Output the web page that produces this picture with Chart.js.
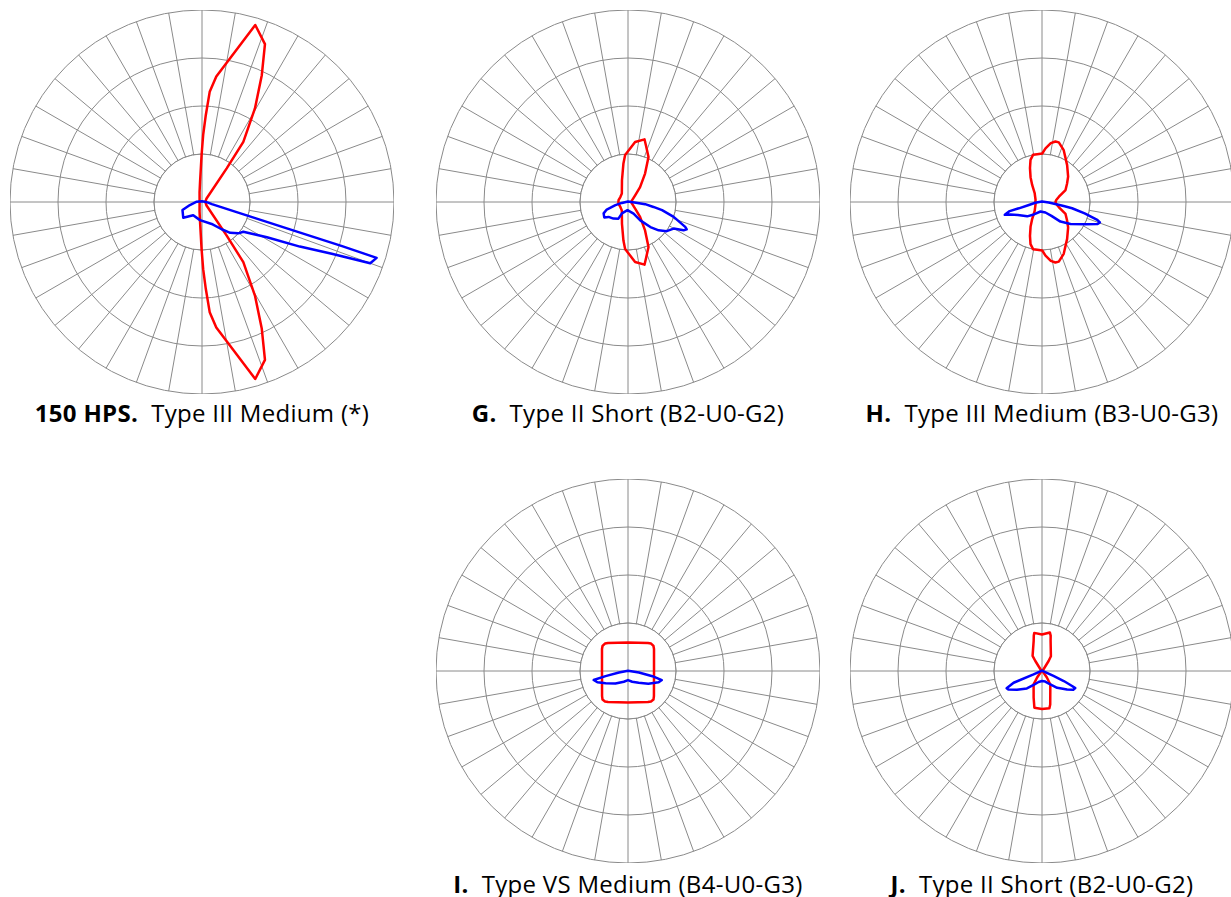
<!DOCTYPE html>
<html>
<head>
<meta charset="utf-8">
<script src="https://cdn.jsdelivr.net/npm/chart.js@4/dist/chart.umd.min.js"></script>
<style>
  html, body { margin: 0; padding: 0; background: #fff; overflow: hidden; }
  body { width: 1231px; height: 897px; position: relative; }
  canvas { position: absolute; }
  .caption {
    position: absolute; width: 460px; text-align: center; white-space: pre;
    font-family: "Open Sans", Lato, sans-serif; font-size: 24px; line-height: 26px;
    letter-spacing: 0.3px; color: #000;
  }
  .caption b { font-weight: 700; margin-right: 13px; }
</style>
</head>
<body>
<script>
// Angular resolution of the polar grid (degrees per category)
const STEP = 0.25;
const N = Math.round(360 / STEP);

// Candela curves: angle (deg, clockwise from top) and relative intensity (ring units)
// 150 HPS, Type III Medium
const hpsRedAngles = [346, 354.5, 359.5, 1, 2.5, 4, 6.5, 16.75, 21.75, 25.25, 29.5, 34.5, 36.25, 51.75, 90,
  128.25, 143.75, 145.5, 150.5, 154.75, 158.25, 163.25, 173.5, 176, 177.5, 179, 180.5, 185.5, 194, 270];
const hpsRedValues = [0.21, 0.42, 0.98, 1.40, 1.81, 2.30, 2.63, 3.85, 3.54, 2.92, 2.24, 1.52, 0.87, 0.12, 0.07,
  0.12, 0.87, 1.52, 2.24, 2.92, 3.54, 3.85, 2.63, 2.30, 1.81, 1.40, 0.98, 0.42, 0.21, 0.05];
const hpsBlueAngles = [0, 84, 96, 102, 105, 106.5, 107.25, 107.5, 107.75, 110, 111.75, 114.5, 118.5, 125.75, 130.75,
  137.5, 144.25, 156.25, 186.25, 213.75, 230, 247.5, 256, 273];
const hpsBlueValues = [0.015, 0.06, 0.13, 0.21, 0.43, 0.87, 1.75, 3.06, 3.82, 3.73, 2.91, 2.24, 1.54, 1.06, 1.00,
  0.87, 0.70, 0.50, 0.38, 0.33, 0.51, 0.44, 0.26, 0.11];

// G. Type II Short (B2-U0-G2)
const gRedAngles = [280.75, 303, 324.25, 344.5, 353.25, 356.5, 6.75, 14.75, 17.5, 24.5, 31, 39, 46.5, 74, 90,
  106, 133.5, 141, 149, 155.5, 162.5, 165.25, 173.25, 183.5, 186.75, 195.5, 215.75, 237, 259.25, 270];
const gRedValues = [0.20, 0.19, 0.22, 0.47, 0.81, 0.98, 1.26, 1.35, 1.24, 1.03, 0.69, 0.40, 0.21, 0.08, 0.08,
  0.08, 0.21, 0.40, 0.69, 1.03, 1.24, 1.35, 1.26, 0.98, 0.81, 0.47, 0.22, 0.19, 0.20, 0.20];
const gBlueAngles = [0, 93, 95, 97.25, 101, 103.5, 108, 113.5, 115, 117, 120.25, 127, 132.75, 138.25, 146.25,
  154.5, 183.5, 208, 210, 221.25, 232.5, 237, 245, 250.5, 256, 261.5];
const gBlueValues = [0.01, 0.10, 0.17, 0.36, 0.54, 0.73, 1.00, 1.30, 1.35, 1.30, 1.10, 1.01, 0.87, 0.70, 0.46,
  0.27, 0.17, 0.27, 0.40, 0.46, 0.51, 0.59, 0.56, 0.47, 0.27, 0.13];

// H. Type III Medium (B3-U0-G3)
const hRedAngles = [0.25, 3.75, 8.5, 12.5, 15.75, 22.75, 34.25, 45.75, 53.5, 63, 72.5, 82, 90,
  98, 107.5, 117, 126.5, 134.25, 145.75, 157.25, 164.25, 167.5, 171.5, 176.25, 179.75, 185.75, 190.75,
  195.25, 199.5, 204.75, 210, 219.5, 253, 270, 287, 320.5, 330, 335.25, 340.5, 344.75, 349.25, 354.25];
const hRedValues = [1.01, 1.12, 1.24, 1.29, 1.29, 1.17, 0.93, 0.76, 0.65, 0.55, 0.37, 0.30, 0.28,
  0.30, 0.37, 0.55, 0.65, 0.76, 0.93, 1.17, 1.29, 1.29, 1.24, 1.12, 1.01, 1.00, 1.00,
  0.91, 0.75, 0.57, 0.41, 0.24, 0.14, 0.14, 0.14, 0.24, 0.41, 0.57, 0.75, 0.91, 1.00, 1.00];
const hBlueAngles = [0, 94, 98.5, 100.5, 101.75, 105, 108, 109.5, 111.75, 117, 127.75, 136.75, 145.75, 162,
  188.75, 213.25, 226, 241.5, 248.5, 251, 254.25, 254.75, 257.25, 264];
const hBlueValues = [0.01, 0.14, 0.28, 0.46, 0.64, 0.92, 1.21, 1.28, 1.24, 1.02, 0.75, 0.56, 0.35, 0.23,
  0.20, 0.31, 0.43, 0.57, 0.71, 0.82, 0.70, 0.50, 0.28, 0.14];

// I. Type VS Medium (B4-U0-G3)
const iRedAngles = [0, 35.5, 40, 45.5, 49.75, 90, 134, 138.25, 143, 147.25, 180, 212.75, 217, 221.75, 226, 270,
  310.25, 314.5, 320, 324.5];
const iRedValues = [0.594, 0.717, 0.747, 0.744, 0.710, 0.542, 0.751, 0.797, 0.796, 0.768, 0.656, 0.768, 0.796,
  0.797, 0.751, 0.542, 0.710, 0.744, 0.747, 0.717];
const iBlueAngles = [0, 98, 102, 105, 110.25, 122, 137.5, 158.75, 180, 201.25, 225, 241.25, 249.75, 255.25,
  257.25, 260.75];
const iBlueValues = [0.005, 0.23, 0.52, 0.73, 0.68, 0.50, 0.33, 0.24, 0.19, 0.24, 0.37, 0.53, 0.68, 0.74,
  0.48, 0.19];

// J. Type II Short (B2-U0-G2)
const jRedAngles = [0, 11.5, 13.75, 16, 31, 33.5, 90, 143.25, 148.25, 162.75, 166.25, 168.75, 180, 191.75,
  197.5, 212, 216.75, 270, 326.25, 328, 344.5, 347, 348.5];
const jRedValues = [0.76, 0.82, 0.76, 0.65, 0.36, 0.25, 0.01, 0.17, 0.33, 0.58, 0.72, 0.79, 0.79, 0.78,
  0.58, 0.33, 0.17, 0.01, 0.25, 0.37, 0.65, 0.76, 0.81];
const jBlueAngles = [0, 113.25, 114.75, 116.5, 117.25, 121, 126.5, 138, 148.25, 163, 180, 197.25, 211, 221,
  233.25, 241.25, 244, 247.5, 248.25];
const jBlueValues = [0.01, 0.26, 0.50, 0.70, 0.78, 0.76, 0.65, 0.47, 0.33, 0.23, 0.21, 0.24, 0.34, 0.48,
  0.65, 0.80, 0.82, 0.64, 0.19];

// Ring values and spoke spacing of the polar grid
const ringMax = 4;
const spokeEvery = 10; // degrees

const GRID = '#8a8a8a';
const RED = '#ff0000';
const BLUE = '#0000ff';

const labels = Array.from({ length: N }, (_, i) => String(i * STEP));

function series(angles, values) {
  const out = new Array(N).fill(null);
  angles.forEach((a, k) => { out[Math.round(a / STEP) % N] = values[k]; });
  return out;
}

// White hub: spokes stop at the first ring, only the two axes cross it
const hub = {
  id: 'hub',
  beforeDatasetsDraw(chart) {
    const s = chart.scales.r;
    const ctx = chart.ctx;
    const r1 = s.getDistanceFromCenterForValue(1);
    const x = s.xCenter, y = s.yCenter;
    ctx.save();
    ctx.beginPath();
    ctx.arc(x, y, r1 - 0.5, 0, Math.PI * 2);
    ctx.fillStyle = '#fff';
    ctx.fill();
    ctx.beginPath();
    ctx.arc(x, y, r1, 0, Math.PI * 2);
    ctx.strokeStyle = GRID;
    ctx.lineWidth = 1;
    ctx.stroke();
    ctx.beginPath();
    ctx.moveTo(x - r1, y); ctx.lineTo(x + r1, y);
    ctx.moveTo(x, y - r1); ctx.lineTo(x, y + r1);
    ctx.stroke();
    ctx.restore();
  }
};

const panels = [
  { cx: 202, cy: 202, bold: '150 HPS.', text: 'Type III Medium (*)', capTop: 400, red: [hpsRedAngles, hpsRedValues], blue: [hpsBlueAngles, hpsBlueValues] },
  { cx: 628, cy: 202, bold: 'G.', text: 'Type II Short (B2-U0-G2)', capTop: 400, red: [gRedAngles, gRedValues], blue: [gBlueAngles, gBlueValues] },
  { cx: 1042, cy: 202, bold: 'H.', text: 'Type III Medium (B3-U0-G3)', capTop: 400, red: [hRedAngles, hRedValues], blue: [hBlueAngles, hBlueValues] },
  { cx: 628, cy: 671, bold: 'I.', text: 'Type VS Medium (B4-U0-G3)', capTop: 871, red: [iRedAngles, iRedValues], blue: [iBlueAngles, iBlueValues] },
  { cx: 1042, cy: 671, bold: 'J.', text: 'Type II Short (B2-U0-G2)', capTop: 871, red: [jRedAngles, jRedValues], blue: [jBlueAngles, jBlueValues] }
];

const SIZE = 384;

panels.forEach(p => {
  const canvas = document.createElement('canvas');
  canvas.width = SIZE; canvas.height = SIZE;
  canvas.style.width = SIZE + 'px'; canvas.style.height = SIZE + 'px';
  canvas.style.left = (p.cx - SIZE / 2) + 'px';
  canvas.style.top = (p.cy - SIZE / 2) + 'px';
  document.body.appendChild(canvas);

  const line = (color, d) => ({
    data: series(d[0], d[1]),
    borderColor: color,
    borderWidth: 2.5,
    pointRadius: 0,
    pointHoverRadius: 0,
    fill: false,
    spanGaps: true,
    tension: 0,
    borderJoinStyle: 'round'
  });

  new Chart(canvas, {
    type: 'radar',
    data: { labels, datasets: [line(BLUE, p.blue), line(RED, p.red)] },
    options: {
      responsive: false,
      animation: false,
      events: [],
      devicePixelRatio: 1,
      layout: { padding: 0 },
      plugins: { legend: { display: false }, tooltip: { enabled: false } },
      scales: {
        r: {
          min: 0, max: ringMax,
          ticks: { display: false, stepSize: 1 },
          pointLabels: { display: false },
          grid: { circular: true, color: GRID, lineWidth: 1 },
          angleLines: {
            color: GRID,
            lineWidth: c => (c.index % Math.round(spokeEvery / STEP) === 0 ? 1 : 0)
          }
        }
      }
    },
    plugins: [hub]
  });

  const cap = document.createElement('div');
  cap.className = 'caption';
  cap.style.left = (p.cx - 230) + 'px';
  cap.style.top = p.capTop + 'px';
  const b = document.createElement('b');
  b.textContent = p.bold;
  cap.appendChild(b);
  cap.appendChild(document.createTextNode(p.text));
  document.body.appendChild(cap);
});
</script>
</body>
</html>
